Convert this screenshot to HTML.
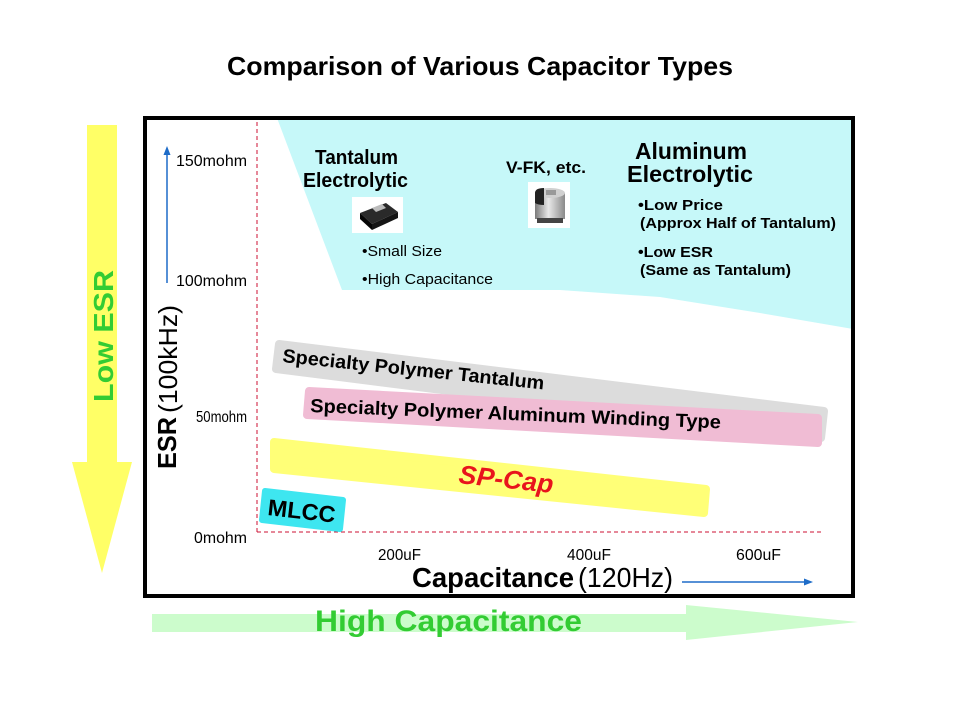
<!DOCTYPE html>
<html>
<head>
<meta charset="utf-8">
<style>
  html, body { margin: 0; padding: 0; background: #ffffff; }
  svg { display: block; }
  text { font-family: "Liberation Sans", Arial, sans-serif; }
</style>
</head>
<body>
<svg width="960" height="720" viewBox="0 0 960 720" xmlns="http://www.w3.org/2000/svg">
  <defs>
    <linearGradient id="can" x1="0" y1="0" x2="1" y2="0">
      <stop offset="0" stop-color="#7a7a7a"/>
      <stop offset="0.45" stop-color="#e8e8e8"/>
      <stop offset="1" stop-color="#8a8a8a"/>
    </linearGradient>
  </defs>

  <!-- Title -->
  <text x="480" y="75" font-size="26" font-weight="bold" text-anchor="middle" textLength="506" lengthAdjust="spacingAndGlyphs" fill="#000">Comparison of Various Capacitor Types</text>

  <!-- Yellow Low ESR arrow -->
  <polygon points="87,125 117,125 117,462 132,462 102,573 72,462 87,462" fill="#ffff66"/>
  <text transform="translate(113,336) rotate(-90)" font-size="28" font-weight="bold" text-anchor="middle" textLength="132" lengthAdjust="spacingAndGlyphs" fill="#33cc33">Low ESR</text>

  <!-- Green High Capacitance arrow -->
  <polygon points="152,614 686,614 686,605 858,622 686,640 686,632 152,632" fill="#ccfccc"/>
  <text x="315" y="631" font-size="30" font-weight="bold" textLength="267" lengthAdjust="spacingAndGlyphs" fill="#33cc33">High Capacitance</text>

  <!-- Cyan aluminum region -->
  <path d="M277,118 L853,118 L853,329 L760,313 L660,297 L560,290 L342,290 Z" fill="#c6f8f9"/>

  <!-- Frame -->
  <rect x="145" y="118" width="708" height="478" fill="none" stroke="#000" stroke-width="4"/>

  <!-- Red dashed axes -->
  <line x1="257" y1="122" x2="257" y2="532" stroke="#cc1133" stroke-width="1" stroke-dasharray="4,3"/>
  <line x1="257" y1="532" x2="822" y2="532" stroke="#cc1133" stroke-width="1" stroke-dasharray="4,3"/>

  <!-- Blue vertical arrow -->
  <line x1="167" y1="283" x2="167" y2="152" stroke="#1e6cc8" stroke-width="1.5"/>
  <polygon points="167,146 163.5,155 170.5,155" fill="#1e6cc8"/>

  <!-- Y axis labels -->
  <text x="176" y="166" font-size="16" textLength="71" lengthAdjust="spacingAndGlyphs" fill="#000">150mohm</text>
  <text x="176" y="286" font-size="16" textLength="71" lengthAdjust="spacingAndGlyphs" fill="#000">100mohm</text>
  <text x="196" y="422" font-size="16" textLength="51" lengthAdjust="spacingAndGlyphs" fill="#000">50mohm</text>
  <text x="194" y="543" font-size="16" textLength="53" lengthAdjust="spacingAndGlyphs" fill="#000">0mohm</text>

  <!-- ESR axis title -->
  <text transform="translate(176,469) rotate(-90)" font-size="26" font-weight="bold" textLength="52" lengthAdjust="spacingAndGlyphs" fill="#000">ESR</text>
  <text transform="translate(177,413) rotate(-90)" font-size="26" textLength="108" lengthAdjust="spacingAndGlyphs" fill="#000">(100kHz)</text>

  <!-- X axis labels -->
  <text x="378" y="560" font-size="16" textLength="43" lengthAdjust="spacingAndGlyphs" fill="#000">200uF</text>
  <text x="567" y="560" font-size="16" textLength="44" lengthAdjust="spacingAndGlyphs" fill="#000">400uF</text>
  <text x="736" y="560" font-size="16" textLength="45" lengthAdjust="spacingAndGlyphs" fill="#000">600uF</text>

  <text x="412" y="587" font-size="28" font-weight="bold" textLength="162" lengthAdjust="spacingAndGlyphs" fill="#000">Capacitance</text>
  <text x="578" y="587" font-size="28" textLength="95" lengthAdjust="spacingAndGlyphs" fill="#000">(120Hz)</text>
  <line x1="682" y1="582" x2="806" y2="582" stroke="#1e6cc8" stroke-width="1.5"/>
  <polygon points="813,582 804,578.5 804,585.5" fill="#1e6cc8"/>

  <!-- Tantalum section -->
  <text x="315" y="164" font-size="20" font-weight="bold" textLength="83" lengthAdjust="spacingAndGlyphs" fill="#000">Tantalum</text>
  <text x="303" y="187" font-size="20" font-weight="bold" textLength="105" lengthAdjust="spacingAndGlyphs" fill="#000">Electrolytic</text>
  <rect x="352" y="197" width="51" height="36" fill="#ffffff"/>
  <polygon points="360,213 386,203 398,212 372,224" fill="#2a2a2a"/>
  <polygon points="360,213 372,224 372,230 360,219" fill="#050505"/>
  <polygon points="372,224 398,212 398,218 372,230" fill="#151515"/>
  <polygon points="372,208 382,204 386,208 376,212" fill="#bbbbbb"/>
  <text x="362" y="256" font-size="15" textLength="80" lengthAdjust="spacingAndGlyphs" fill="#000">•Small Size</text>
  <text x="362" y="284" font-size="15" textLength="131" lengthAdjust="spacingAndGlyphs" fill="#000">•High Capacitance</text>

  <!-- V-FK -->
  <text x="506" y="173" font-size="17" font-weight="bold" textLength="80" lengthAdjust="spacingAndGlyphs" fill="#000">V-FK, etc.</text>
  <rect x="528" y="182" width="42" height="46" fill="#ffffff"/>
  <rect x="535" y="193" width="30" height="26" fill="url(#can)"/>
  <ellipse cx="550" cy="193" rx="15" ry="5" fill="#d0d0d0"/>
  <path d="M535,193 Q535,188 544,188 L544,205 Q538,205 535,203 Z" fill="#222"/>
  <rect x="537" y="218" width="26" height="5" fill="#444"/>
  <rect x="546" y="190" width="10" height="5" fill="#999"/>

  <!-- Aluminum section -->
  <text x="635" y="159" font-size="23" font-weight="bold" textLength="112" lengthAdjust="spacingAndGlyphs" fill="#000">Aluminum</text>
  <text x="627" y="182" font-size="23" font-weight="bold" textLength="126" lengthAdjust="spacingAndGlyphs" fill="#000">Electrolytic</text>
  <text x="638" y="210" font-size="15" font-weight="bold" textLength="85" lengthAdjust="spacingAndGlyphs" fill="#000">•Low Price</text>
  <text x="640" y="228" font-size="15" font-weight="bold" textLength="196" lengthAdjust="spacingAndGlyphs" fill="#000">(Approx Half of Tantalum)</text>
  <text x="638" y="257" font-size="15" font-weight="bold" textLength="75" lengthAdjust="spacingAndGlyphs" fill="#000">•Low ESR</text>
  <text x="640" y="275" font-size="15" font-weight="bold" textLength="151" lengthAdjust="spacingAndGlyphs" fill="#000">(Same as Tantalum)</text>

  <!-- Grey band: Specialty Polymer Tantalum -->
  <polygon points="279,344 824,411 821,438 276,369" fill="#dcdcdc" stroke="#dcdcdc" stroke-width="8" stroke-linejoin="round"/>
  <!-- Pink band -->
  <polygon points="309,391 818,418 818,443 307,415" fill="#f0bcd4" stroke="#f0bcd4" stroke-width="8" stroke-linejoin="round"/>
  <!-- Yellow band -->
  <polygon points="274,442 706,489 704,513 274,469" fill="#ffff77" stroke="#ffff77" stroke-width="8" stroke-linejoin="round"/>
  <!-- MLCC box -->
  <polygon points="265,491 343,500 340,529 262,520" fill="#3ee6f0" stroke="#3ee6f0" stroke-width="6" stroke-linejoin="round"/>

  <text transform="translate(282,362) rotate(6)" font-size="19" font-weight="bold" textLength="263" lengthAdjust="spacingAndGlyphs" fill="#000">Specialty Polymer Tantalum</text>
  <text transform="translate(310,412) rotate(2.3)" font-size="19" font-weight="bold" textLength="411" lengthAdjust="spacingAndGlyphs" fill="#000">Specialty Polymer Aluminum Winding Type</text>
  <text transform="translate(458,483) rotate(6)" font-size="26" font-weight="bold" font-style="italic" textLength="95" lengthAdjust="spacingAndGlyphs" fill="#e8141c">SP-Cap</text>
  <text transform="translate(267,515) rotate(6.5)" font-size="23" font-weight="bold" textLength="68" lengthAdjust="spacingAndGlyphs" fill="#000">MLCC</text>
</svg>
</body>
</html>
